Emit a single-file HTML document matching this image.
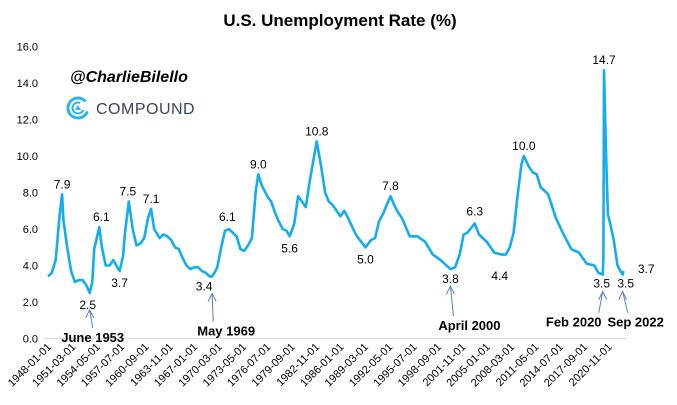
<!DOCTYPE html>
<html><head><meta charset="utf-8">
<style>
body{margin:0;background:#fff;width:677px;height:405px;overflow:hidden;font-family:"Liberation Sans",sans-serif}
svg{display:block}
</style></head>
<body>
<svg id="c" width="677" height="405">
<text x="340" y="26" text-anchor="middle" font-size="17" font-weight="bold" fill="#000">U.S. Unemployment Rate (%)</text>
<text x="70" y="82" font-size="16" font-weight="bold" font-style="italic" fill="#000">@CharlieBilello</text>
<g>
<circle cx="78" cy="108" r="10" fill="none" stroke="#2bb5e8" stroke-width="3" stroke-dasharray="52 11" transform="rotate(20 78 108)"/>
<circle cx="78" cy="108" r="5.5" fill="none" stroke="#2bb5e8" stroke-width="2" stroke-dasharray="26 9" transform="rotate(20 78 108)"/>
<polygon points="78,105 81,110 75,110" fill="#2bb5e8"/>
<text x="96" y="114" font-size="16" fill="#3b4658" letter-spacing="0.5">COMPOUND</text>
</g>
<g id="axes"></g>
<g id="plot"></g>
<g id="ann"></g>
</svg>
<script>
const dates=[1948.0,1948.5,1949.0,1949.5,1949.83,1950.0,1950.5,1951.0,1951.5,1952.0,1952.5,1953.0,1953.42,1953.75,1954.0,1954.67,1955.0,1955.5,1956.0,1956.5,1957.0,1957.3,1957.75,1958.0,1958.5,1959.0,1959.5,1960.0,1960.5,1961.0,1961.4,1961.8,1962.5,1963.0,1963.5,1964.0,1964.5,1965.0,1965.5,1966.0,1966.5,1967.0,1967.5,1968.0,1968.5,1969.0,1969.33,1969.75,1970.0,1970.5,1971.0,1971.5,1972.0,1972.5,1973.0,1973.5,1974.0,1974.5,1975.0,1975.33,1975.75,1976.5,1977.0,1977.5,1978.0,1978.5,1979.0,1979.4,1980.0,1980.5,1981.0,1981.5,1982.0,1982.5,1982.92,1983.5,1984.0,1984.5,1985.0,1986.0,1986.5,1987.0,1988.0,1988.5,1989.25,1990.0,1990.5,1991.0,1991.5,1992.0,1992.5,1993.0,1993.5,1994.0,1995.0,1996.0,1997.0,1998.0,1999.0,2000.29,2000.9,2001.5,2002.0,2002.5,2003.45,2004.0,2005.0,2006.0,2007.0,2007.5,2008.0,2008.5,2009.0,2009.5,2009.83,2010.5,2011.0,2011.5,2012.0,2013.0,2014.0,2015.0,2016.0,2017.0,2018.0,2019.0,2019.5,2020.08,2020.17,2020.25,2020.5,2020.75,2021.0,2021.5,2022.0,2022.5,2022.67,2022.75];
const rates=[3.4,3.6,4.3,6.7,7.9,6.5,5.0,3.7,3.1,3.2,3.2,2.9,2.5,3.1,4.9,6.1,5.0,4.0,4.0,4.3,3.9,3.7,4.5,5.8,7.5,6.0,5.1,5.2,5.5,6.6,7.1,6.0,5.5,5.7,5.6,5.4,5.0,4.9,4.4,4.0,3.8,3.9,3.9,3.7,3.6,3.4,3.4,3.7,3.9,5.0,5.9,6.0,5.8,5.6,4.9,4.8,5.1,5.5,8.1,9.0,8.4,7.8,7.5,6.9,6.4,6.0,5.9,5.6,6.3,7.8,7.5,7.2,8.6,9.8,10.8,9.4,8.0,7.5,7.3,6.7,7.0,6.6,5.7,5.4,5.0,5.4,5.5,6.4,6.8,7.3,7.8,7.3,6.9,6.6,5.6,5.6,5.3,4.6,4.3,3.8,3.9,4.6,5.7,5.8,6.3,5.7,5.3,4.7,4.6,4.6,5.0,5.8,7.8,9.5,10.0,9.4,9.1,9.0,8.3,7.9,6.6,5.7,4.9,4.7,4.1,4.0,3.6,3.5,4.4,14.7,10.2,6.8,6.4,5.4,4.0,3.6,3.5,3.7];
const yTicks=[0,2,4,6,8,10,12,14,16];
const xTickLabels=["1948-01-01","1951-03-01","1954-05-01","1957-07-01","1960-09-01","1963-11-01","1967-01-01","1970-03-01","1973-05-01","1976-07-01","1979-09-01","1982-11-01","1986-01-01","1989-03-01","1992-05-01","1995-07-01","1998-09-01","2001-11-01","2005-01-01","2008-03-01","2011-05-01","2014-07-01","2017-09-01","2020-11-01"];
const peakLabels=[[1949.83,7.9,0,-6],[1953.42,2.5,-2,16],[1954.67,6.1,2,-6],[1957.3,3.7,0,16],[1958.5,7.5,-1,-6],[1961.4,7.1,0,-6],[1969.33,3.4,-8,14],[1971.3,6.1,0,-6],[1975.33,9.0,0,-6],[1979.4,5.6,0,16],[1982.92,10.8,0,-6],[1989.25,5.0,0,16],[1992.5,7.8,0,-6],[2000.29,3.8,0,14],[2003.45,6.3,0,-8],[2006.7,4.4,0,22],[2009.83,10.0,0,-6],[2020.25,14.7,0,-6],[2020.08,3.5,-1,13],[2022.67,3.5,3,13],[2022.75,3.7,23,2]];
const events=[["June 1953",1953.42,2.5],["May 1969",1969.33,3.4],["April 2000",2000.29,3.8],["Feb 2020",2020.08,3.5],["Sep 2022",2022.67,3.5]];
const eventOffsets=[[3,3,18],[14,1,28],[19,3,30],[-29,-4,21],[13,5,21]];

const x=d=>48+(d-1948)*7.696;
const y=v=>338.5-v*18.25;
const NS="http://www.w3.org/2000/svg";
function mk(tag,attrs,parent){const e=document.createElementNS(NS,tag);for(const k in attrs)e.setAttribute(k,attrs[k]);parent.appendChild(e);return e;}
const axes=document.getElementById('axes'),plot=document.getElementById('plot'),ann=document.getElementById('ann');
const base=mk('line',{x1:44,x2:627,y1:y(0),y2:y(0),stroke:'#d9d9d9','stroke-width':1},axes);


yTicks.forEach(v=>{const t=mk('text',{x:38,y:y(v)+4,'text-anchor':'end','font-size':11,fill:'#000'},axes);t.textContent=v.toFixed(1);

});
xTickLabels.forEach(s=>{const p=s.split('-');const d=+p[0]+(+p[1]-1)/12;const tx=x(d)+4,ty=y(0)+9;
const t=mk('text',{x:tx,y:ty,'text-anchor':'end','font-size':11,fill:'#000',transform:`rotate(-45 ${tx} ${ty})`},axes);t.textContent=s;

});
const pts=dates.map((d,i)=>x(d).toFixed(1)+','+y(rates[i]).toFixed(1)).join(' ');
const line=mk('polyline',{points:pts,fill:'none',stroke:'#13adee','stroke-width':2.6,'stroke-linejoin':'round'},plot);


peakLabels.forEach(a=>{const t=mk('text',{x:x(a[0])+a[2],y:y(a[1])+a[3],'text-anchor':'middle','font-size':12,fill:'#000'},ann);t.textContent=a[1].toFixed(1);

});
events.forEach((e,i)=>{const ax=x(e[1]),o=eventOffsets[i];const hy=y(e[2])+17;const tx=ax+o[1],tyy=hy+o[2];
const g=mk('g',{},ann);


mk('line',{x1:tx,y1:tyy,x2:ax,y2:hy,stroke:'#5b7fbf','stroke-width':1},g);
mk('polyline',{points:`${ax-4},${hy+8} ${ax},${hy} ${ax+4},${hy+8}`,fill:'none',stroke:'#5b7fbf','stroke-width':1},g);
const t=mk('text',{x:ax+o[0],y:tyy+14,'text-anchor':'middle','font-size':13,'font-weight':'bold',fill:'#000'},g);t.textContent=e[0];});
</script>
</body></html>
